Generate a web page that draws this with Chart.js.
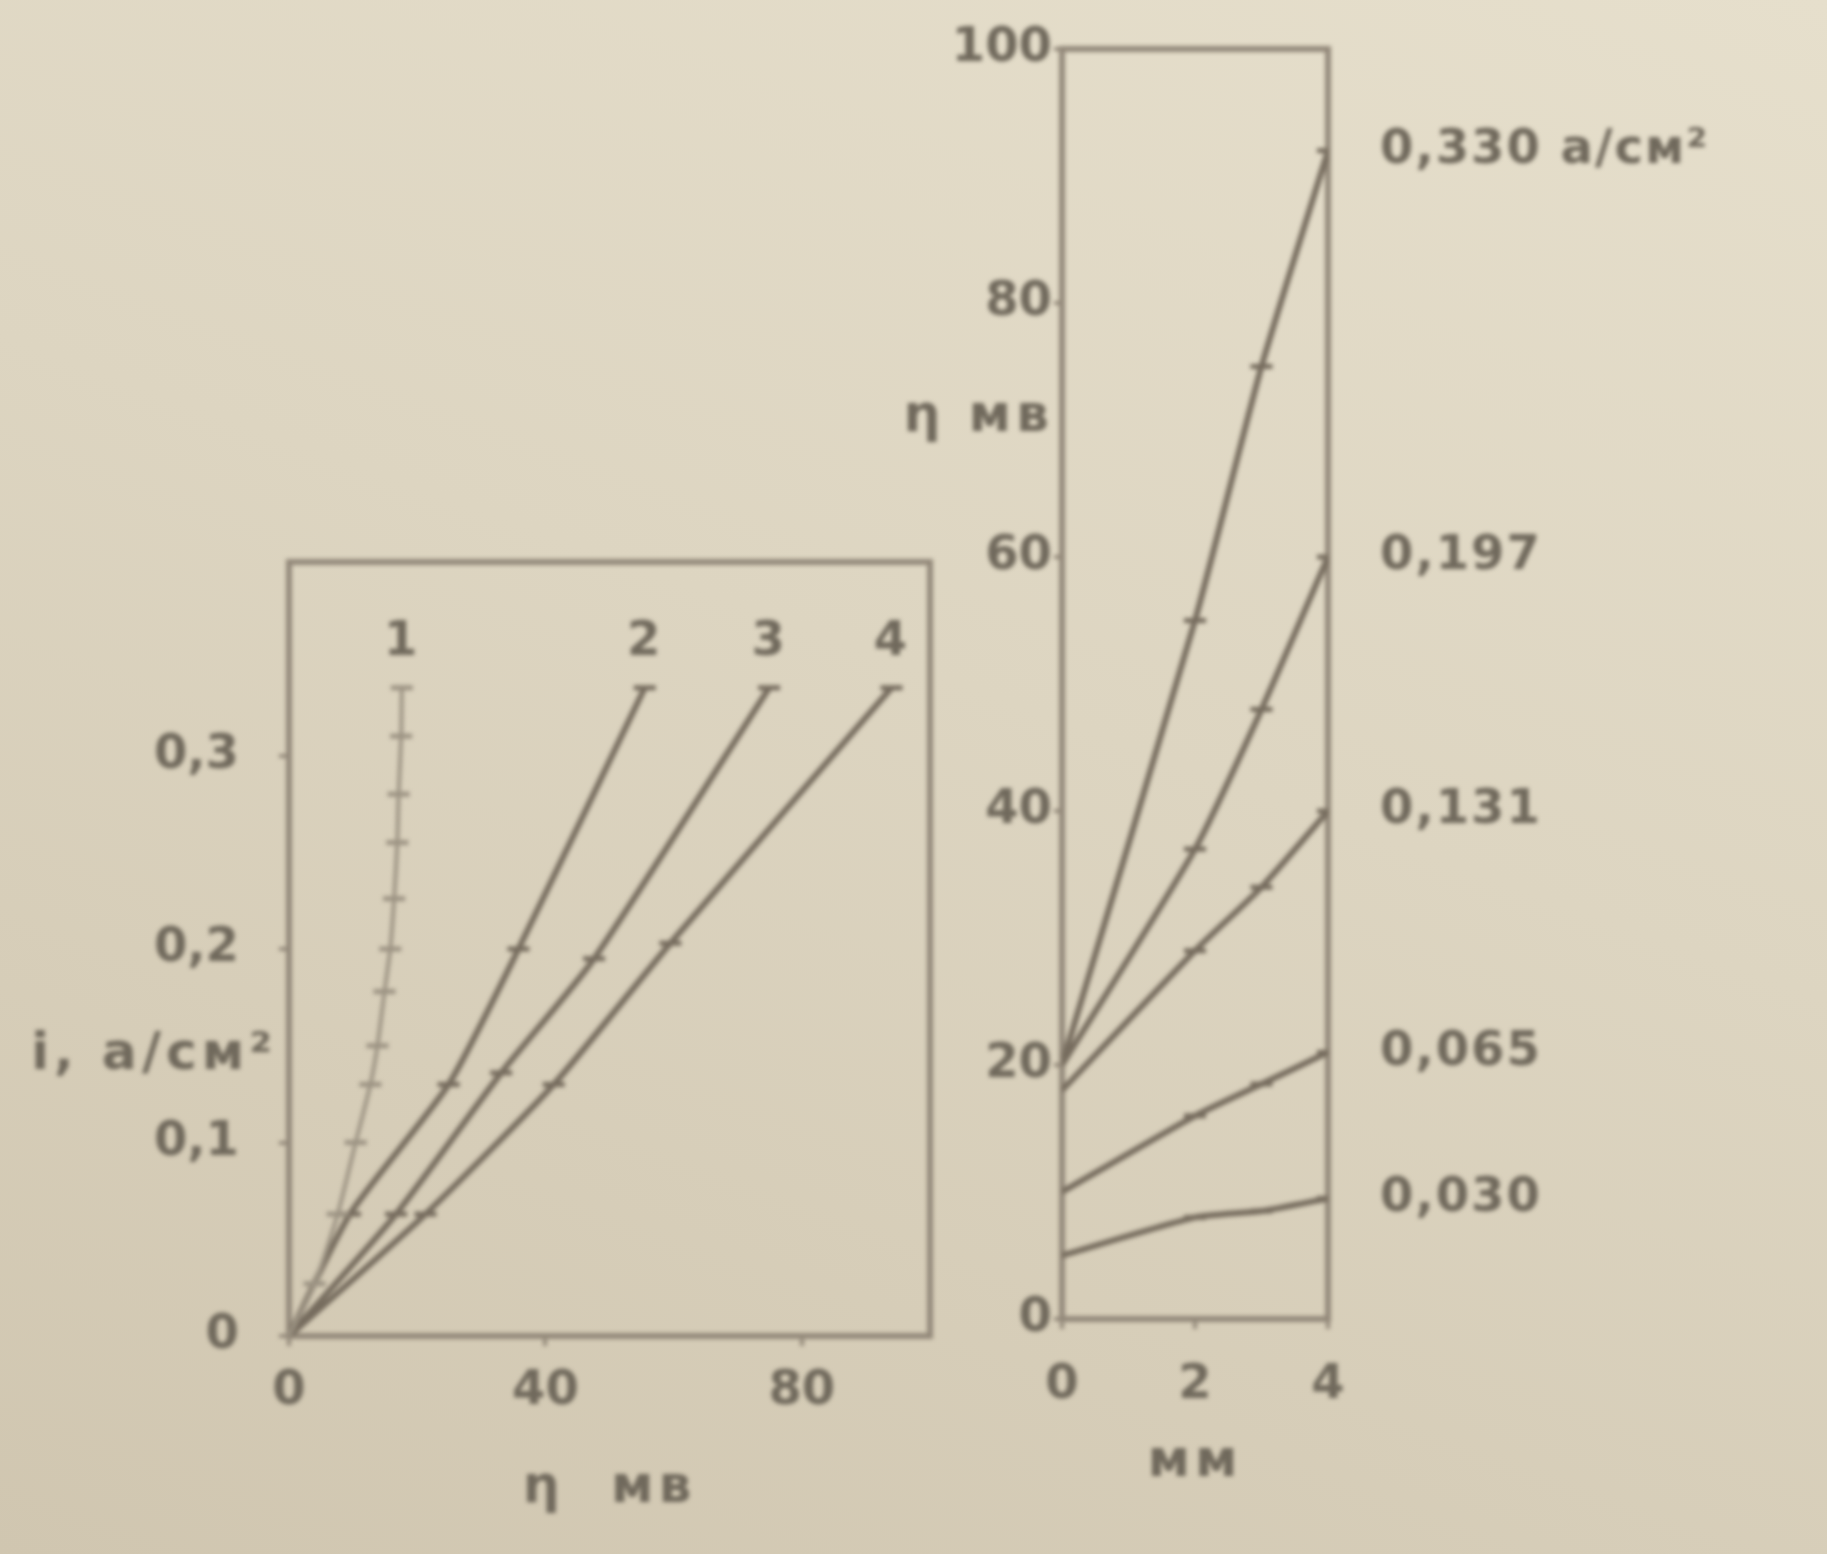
<!DOCTYPE html>
<html>
<head>
<meta charset="utf-8">
<script src="https://cdn.jsdelivr.net/npm/chart.js@4.4.0/dist/chart.umd.min.js"></script>
<style>
html, body { margin: 0; padding: 0; }
body {
  width: 1827px; height: 1554px; position: relative; overflow: hidden;
  background: linear-gradient(200deg, #e6dfcc 0%, #ddd5c1 45%, #d0c6b0 100%);
}
canvas { position: absolute; filter: blur(2px); }
#left { left: 0; top: 470px; }
#right { left: 860px; top: 0; }
</style>
</head>
<body>
<canvas id="left" width="960" height="1084"></canvas>
<canvas id="right" width="967" height="1554"></canvas>
<script>
// left panel: i (a/cm2) against overpotential eta (mv), curves 1-4
var c1X = [0, 4, 7.6, 10.4, 12.7, 13.8, 14.9, 15.8, 16.4, 16.9, 17.1, 17.5, 17.6];
var c1Y = [0, 0.027, 0.063, 0.10, 0.13, 0.15, 0.178, 0.20, 0.226, 0.255, 0.28, 0.31, 0.335];
var c2X = [0, 9.5, 24.9, 35.8, 55.5];
var c2Y = [0, 0.063, 0.13, 0.20, 0.335];
var c3X = [0, 16.7, 33.1, 47.6, 74.9];
var c3Y = [0, 0.063, 0.136, 0.195, 0.335];
var c4X = [0, 21.3, 41.3, 59.5, 94];
var c4Y = [0, 0.063, 0.13, 0.203, 0.335];
var leftNames = ['1', '2', '3', '4'];

// right panel: eta (mv) against distance (mm) for five current densities
var distMM = [0, 2, 3, 4];
var eta330 = [20, 55, 75, 92];
var eta197 = [20, 37, 48, 60];
var eta131 = [18, 29, 34, 40];
var eta065 = [10, 16, 18.5, 21];
var eta030 = [5, 8, 8.5, 9.5];
var rightNames = ['0,330 а/см²', '0,197', '0,131', '0,065', '0,030'];

var lineCol = '#766c5e';
var faintCol = '#9c9383';
var frameCol = '#93897a';
var textCol = '#70695c';
var labelFont = 'bold 48px "DejaVu Sans", "Liberation Sans", sans-serif';
var titleFont = 'bold 52px "DejaVu Sans", "Liberation Sans", sans-serif';

Chart.defaults.font.family = "'DejaVu Sans', 'Liberation Sans', sans-serif";
Chart.defaults.font.weight = 'bold';
Chart.defaults.font.size = 48;
Chart.defaults.color = textCol;

function pts(xs, ys) {
  var out = [];
  for (var i = 0; i < xs.length; i++) out.push({x: xs[i], y: ys[i]});
  return out;
}

function series(label, xs, ys, col, width) {
  return {
    label: label,
    data: pts(xs, ys),
    borderColor: col,
    backgroundColor: col,
    borderWidth: width,
    tension: 0.2,
    pointStyle: 'line',
    pointRadius: xs.map(function (v, i) { return i == 0 ? 0 : 11; }),
    pointBorderWidth: 5,
    pointBorderColor: col
  };
}

// box round the plot area
var framePlugin = {
  id: 'frame',
  beforeDatasetsDraw: function (chart) {
    var a = chart.chartArea, ctx = chart.ctx;
    ctx.save();
    ctx.strokeStyle = frameCol;
    ctx.lineWidth = 6;
    ctx.strokeRect(a.left, a.top, a.right - a.left, a.bottom - a.top);
    ctx.restore();
  }
};

// curve names at the end of each line + axis titles
function labelPlugin(names, dx, dy, align, titles) {
  return {
    id: 'labels',
    afterDraw: function (chart) {
      var ctx = chart.ctx, a = chart.chartArea;
      ctx.save();
      ctx.fillStyle = textCol;
      ctx.textBaseline = 'middle';
      ctx.font = labelFont;
      ctx.letterSpacing = '2px';
      chart.data.datasets.forEach(function (ds, i) {
        var meta = chart.getDatasetMeta(i);
        var last = meta.data[meta.data.length - 1];
        ctx.textAlign = align;
        ctx.fillText(names[i], last.x + dx, last.y + dy);
      });
      ctx.font = titleFont;
      ctx.letterSpacing = '5px';
      titles.forEach(function (t) {
        ctx.textAlign = t.align;
        ctx.fillText(t.text, t.x(chart, a), t.y(chart, a));
      });
      ctx.restore();
    }
  };
}

var tickGrid = {
  display: true, drawOnChartArea: false, drawTicks: true,
  tickLength: 10, color: frameCol, lineWidth: 4
};

new Chart(document.getElementById('left'), {
  type: 'line',
  data: {
    datasets: [
      series('1', c1X, c1Y, faintCol, 4),
      series('2', c2X, c2Y, lineCol, 6),
      series('3', c3X, c3Y, lineCol, 6),
      series('4', c4X, c4Y, lineCol, 6)
    ]
  },
  options: {
    responsive: false,
    devicePixelRatio: 1,
    animation: false,
    layout: { padding: { left: 0, top: 92, right: 30, bottom: 0 } },
    plugins: { legend: { display: false }, tooltip: { enabled: false } },
    scales: {
      x: {
        type: 'linear', min: 0, max: 100,
        border: { display: false },
        grid: tickGrid,
        ticks: {
          stepSize: 40, padding: 17,
          callback: function (v) { return v % 40 === 0 ? String(v) : null; }
        },
        afterFit: function (s) { s.height = 218; }
      },
      y: {
        min: 0, max: 0.4,
        border: { display: false },
        grid: tickGrid,
        ticks: {
          stepSize: 0.1, padding: 40,
          callback: function (v) {
            if (v > 0.35) return null;
            return String(Math.round(v * 10) / 10).replace('.', ',');
          }
        },
        afterFit: function (s) { s.width = 289; }
      }
    }
  },
  plugins: [framePlugin, labelPlugin(leftNames, 0, -45, 'center', [
    { text: 'η  мв', align: 'center',
      x: function (c, a) { return (a.left + a.right) / 2; },
      y: function (c, a) { return a.bottom + 152; } },
    { text: 'i, а/см²', align: 'right',
      x: function (c, a) { return a.left - 12; },
      y: function (c, a) { return c.scales.y.getPixelForValue(0.145); } }
  ])]
});

new Chart(document.getElementById('right'), {
  type: 'line',
  data: {
    datasets: [
      series(rightNames[0], distMM, eta330, lineCol, 6),
      series(rightNames[1], distMM, eta197, lineCol, 6),
      series(rightNames[2], distMM, eta131, lineCol, 6),
      series(rightNames[3], distMM, eta065, lineCol, 6),
      series(rightNames[4], distMM, eta030, lineCol, 6)
    ]
  },
  options: {
    responsive: false,
    devicePixelRatio: 1,
    animation: false,
    layout: { padding: { left: 0, top: 49, right: 499, bottom: 0 } },
    plugins: { legend: { display: false }, tooltip: { enabled: false } },
    scales: {
      x: {
        type: 'linear', min: 0, max: 4,
        border: { display: false },
        grid: tickGrid,
        ticks: { stepSize: 2, padding: 28 },
        afterFit: function (s) { s.height = 235; }
      },
      y: {
        min: 0, max: 100,
        border: { display: false },
        grid: { display: true, drawOnChartArea: false, drawTicks: true, tickLength: 8, color: frameCol, lineWidth: 4 },
        ticks: { stepSize: 20, padding: 2 },
        afterFit: function (s) { s.width = 202; }
      }
    }
  },
  plugins: [framePlugin, labelPlugin(rightNames, 52, 0, 'left', [
    { text: 'мм', align: 'center',
      x: function (c, a) { return (a.left + a.right) / 2; },
      y: function (c, a) { return a.bottom + 143; } },
    { text: 'η мв', align: 'right',
      x: function (c, a) { return a.left - 8; },
      y: function (c, a) { return c.scales.y.getPixelForValue(71); } }
  ])]
});
</script>
</body>
</html>
